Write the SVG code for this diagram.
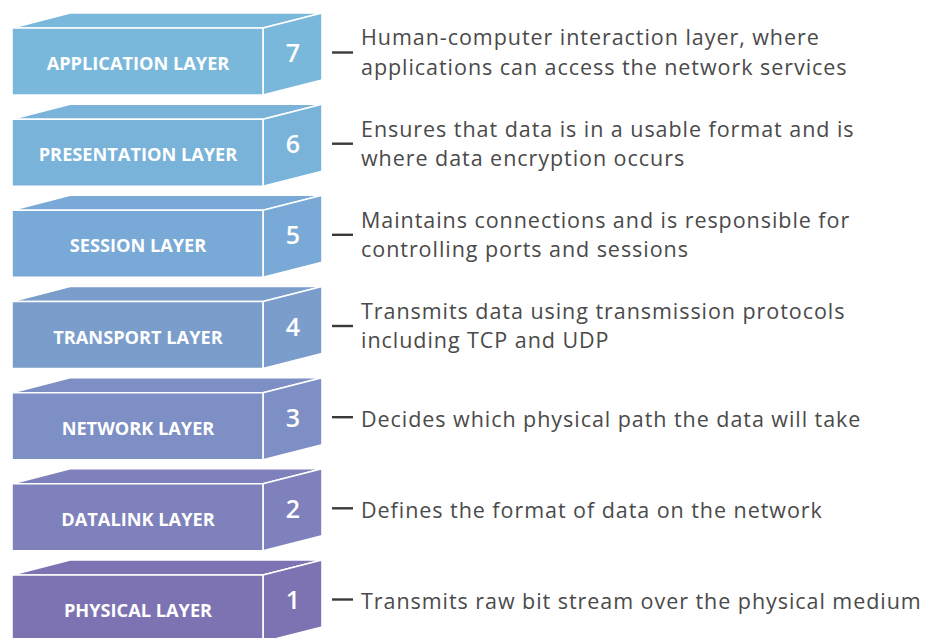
<svg xmlns="http://www.w3.org/2000/svg" width="927" height="638" viewBox="0 0 927 638">
<style>
.face{stroke:#ffffff;stroke-width:1.6;stroke-linejoin:round}
.lbl{font-family:"Open Sans","Noto Sans",sans-serif;font-weight:700;font-size:18.2px;fill:#ffffff;text-anchor:middle}
.num{font-family:"Open Sans","Noto Sans",sans-serif;font-weight:600;font-size:25px;fill:#ffffff;text-anchor:middle}
.desc{font-family:"Open Sans","Noto Sans",sans-serif;font-size:21.5px;letter-spacing:0.95px;fill:#4a4a4a}
.dash{stroke:#3a3a3a;stroke-width:2.4}
</style>
<defs>
<g id="box">
<polygon class="face" points="12,28 70,13 322,13 263,28"/>
<polygon class="face" points="263,28 322,13 322,80 263,95"/>
<rect class="face" x="12" y="28" width="251" height="67"/>
</g>
</defs>
<rect width="927" height="638" fill="#ffffff"/>
<g id="layer7" transform="translate(0,0)" fill="#7ab8db">
<use href="#box"/>
<text class="lbl" x="138" y="70">APPLICATION LAYER</text>
<text class="num" x="293" y="62">7</text>
</g>
<g id="layer6" transform="translate(0,91.2)" fill="#79b3da">
<use href="#box"/>
<text class="lbl" x="138" y="70">PRESENTATION LAYER</text>
<text class="num" x="293" y="62">6</text>
</g>
<g id="layer5" transform="translate(0,182.3)" fill="#79a9d6">
<use href="#box"/>
<text class="lbl" x="138" y="70">SESSION LAYER</text>
<text class="num" x="293" y="62">5</text>
</g>
<g id="layer4" transform="translate(0,273.5)" fill="#7a9dcc">
<use href="#box"/>
<text class="lbl" x="138" y="70">TRANSPORT LAYER</text>
<text class="num" x="293" y="62">4</text>
</g>
<g id="layer3" transform="translate(0,364.7)" fill="#7d8fc4">
<use href="#box"/>
<text class="lbl" x="138" y="70">NETWORK LAYER</text>
<text class="num" x="293" y="62">3</text>
</g>
<g id="layer2" transform="translate(0,455.8)" fill="#7e81bb">
<use href="#box"/>
<text class="lbl" x="138" y="70">DATALINK LAYER</text>
<text class="num" x="293" y="62">2</text>
</g>
<g id="layer1" transform="translate(0,547)" fill="#7e73b2">
<use href="#box"/>
<text class="lbl" x="138" y="70">PHYSICAL LAYER</text>
<text class="num" x="293" y="62">1</text>
</g>
<g id="connectors">
<line class="dash" x1="332" y1="52.5" x2="353" y2="52.5"/>
<line class="dash" x1="332" y1="143.7" x2="353" y2="143.7"/>
<line class="dash" x1="332" y1="234.8" x2="353" y2="234.8"/>
<line class="dash" x1="332" y1="326" x2="353" y2="326"/>
<line class="dash" x1="332" y1="417.2" x2="353" y2="417.2"/>
<line class="dash" x1="332" y1="508.3" x2="353" y2="508.3"/>
<line class="dash" x1="332" y1="599.5" x2="353" y2="599.5"/>
</g>
<g id="descriptions">
<text class="desc" x="361" y="45.3">Human-computer interaction layer, where</text>
<text class="desc" x="361" y="74.7">applications can access the network services</text>
<text class="desc" x="361" y="136.5">Ensures that data is in a usable format and is</text>
<text class="desc" x="361" y="165.9">where data encryption occurs</text>
<text class="desc" x="361" y="227.6">Maintains connections and is responsible for</text>
<text class="desc" x="361" y="257">controlling ports and sessions</text>
<text class="desc" x="361" y="318.8">Transmits data using transmission protocols</text>
<text class="desc" x="361" y="348.2">including TCP and UDP</text>
<text class="desc" x="361" y="426.5">Decides which physical path the data will take</text>
<text class="desc" x="361" y="517.6">Defines the format of data on the network</text>
<text class="desc" x="361" y="608.8">Transmits raw bit stream over the physical medium</text>
</g>
</svg>
